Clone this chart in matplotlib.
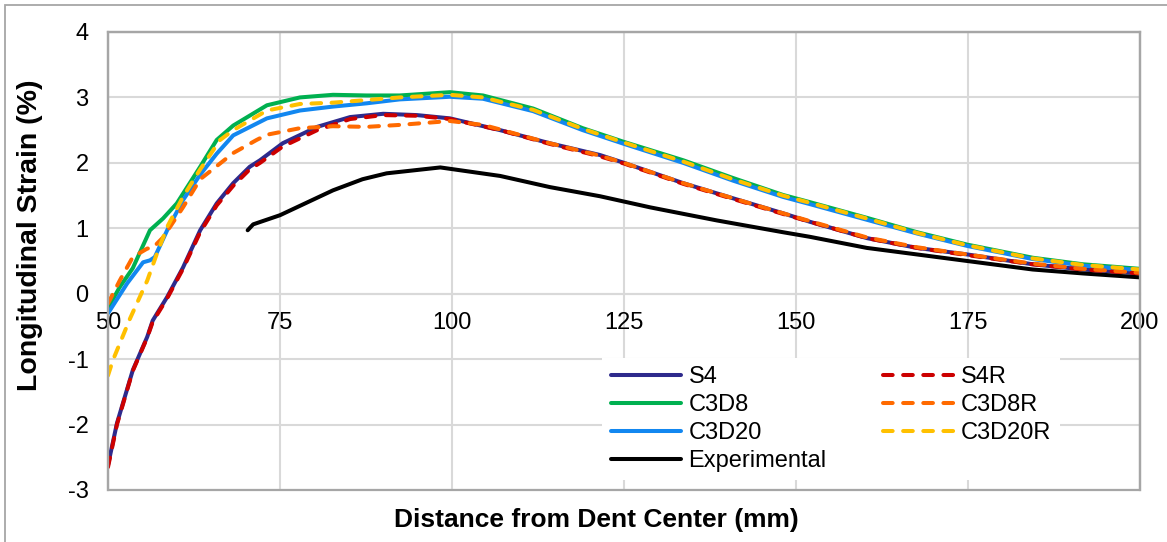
import matplotlib
matplotlib.use("Agg")
import matplotlib.pyplot as plt
from matplotlib.patches import Rectangle

plt.rcParams['font.family'] = ['Liberation Sans', 'DejaVu Sans']

# ---------------- data ----------------
s4_x = [50, 51.3, 53.6, 55.7, 56.5, 58.6, 60.9, 63.4, 65.8, 68.2, 70.6, 72.1, 75.4, 80.4, 85.2, 90, 94.9, 99.7,
        107, 114.2, 121.5, 125, 133.6, 140.8, 148.1, 152, 160.3, 167.6, 174.9, 184.4, 191.7, 200]
s4_y = [-2.62, -1.98, -1.17, -0.66, -0.41, -0.05, 0.4, 0.97, 1.38, 1.69, 1.94, 2.04, 2.3, 2.55, 2.7, 2.75, 2.73, 2.68,
        2.5, 2.3, 2.12, 2.0, 1.69, 1.46, 1.23, 1.1, 0.85, 0.7, 0.6, 0.45, 0.37, 0.31]

s4r_x = s4_x
s4r_y = [-2.65, -2.0, -1.18, -0.67, -0.43, -0.07, 0.38, 0.94, 1.35, 1.65, 1.9, 2.0, 2.25, 2.5, 2.67, 2.73, 2.72, 2.67,
         2.5, 2.29, 2.1, 1.99, 1.68, 1.45, 1.22, 1.1, 0.85, 0.7, 0.59, 0.45, 0.37, 0.31]

c3d8_x = [50, 51.7, 53.6, 56.1, 58, 60, 63.4, 65.8, 68.2, 73.1, 77.9, 82.7, 87.6, 92.4, 99.7, 104.5, 111.8, 119,
          125, 133.6, 140.8, 148.1, 152, 160.3, 167.6, 174.9, 184.4, 191.7, 200]
c3d8_y = [-0.22, 0.1, 0.39, 0.97, 1.15, 1.38, 1.94, 2.35, 2.57, 2.88, 3.0, 3.04, 3.03, 3.03, 3.08, 3.03, 2.83, 2.53,
          2.32, 2.04, 1.77, 1.51, 1.4, 1.16, 0.94, 0.75, 0.55, 0.45, 0.38]

c3d8r_x = [50, 51.7, 53.6, 55.7, 56.5, 58, 60.9, 63.4, 68.2, 71.6, 73.1, 77.9, 82.7, 87.6, 92.4, 99.7, 104.5, 107,
           114.2, 121.5, 125, 133.6, 140.8, 148.1, 152, 160.3, 167.6, 174.9, 184.4, 191.7, 200]
c3d8r_y = [-0.15, 0.2, 0.56, 0.69, 0.7, 0.86, 1.32, 1.75, 2.15, 2.35, 2.43, 2.53, 2.56, 2.55, 2.58, 2.64, 2.58, 2.51,
           2.3, 2.11, 2.0, 1.69, 1.46, 1.23, 1.11, 0.86, 0.71, 0.6, 0.46, 0.38, 0.32]

c3d20_x = [50, 52.8, 55.1, 56.1, 56.8, 58.6, 60.9, 63.4, 65.8, 68.2, 73.1, 77.9, 82.7, 87.6, 92.4, 99.7, 104.5, 111.8,
           119, 125, 133.6, 140.8, 148.1, 152, 160.3, 167.6, 174.9, 184.4, 191.7, 200]
c3d20_y = [-0.3, 0.16, 0.48, 0.51, 0.56, 0.97, 1.43, 1.82, 2.14, 2.42, 2.68, 2.8, 2.86, 2.91, 2.97, 3.01, 2.98, 2.79,
           2.5, 2.29, 2.0, 1.73, 1.48, 1.37, 1.13, 0.92, 0.73, 0.53, 0.43, 0.36]

c3d20r_x = [50, 50.7, 53.2, 55.7, 57.1, 58.6, 60.9, 63.4, 66.3, 68.2, 73.1, 77.9, 82.7, 87.6, 92.4, 99.7, 104.5, 111.8,
            119, 125, 133.6, 140.8, 148.1, 152, 160.3, 167.6, 174.9, 184.4, 191.7, 200]
c3d20r_y = [-1.25, -1.02, -0.38, 0.2, 0.61, 1.02, 1.48, 1.9, 2.35, 2.5, 2.8, 2.9, 2.92, 2.96, 3.0, 3.04, 3.0, 2.81,
            2.52, 2.31, 2.02, 1.75, 1.5, 1.39, 1.15, 0.93, 0.74, 0.54, 0.44, 0.37]

exp_x = [70.3, 71.1, 75, 82.7, 87, 90.5, 98.3, 107, 114.2, 121.5, 128.8, 138.5, 148.1, 152, 160.3, 167.6, 174.9,
         184.4, 191.7, 200]
exp_y = [0.97, 1.06, 1.2, 1.58, 1.75, 1.84, 1.93, 1.8, 1.63, 1.49, 1.32, 1.12, 0.94, 0.87, 0.7, 0.6, 0.5, 0.37,
         0.31, 0.25]

x_ticks = [50, 75, 100, 125, 150, 175, 200]
y_ticks = [-3, -2, -1, 0, 1, 2, 3, 4]

# ---------------- figure ----------------
fig = plt.figure(figsize=(11.67, 5.42), dpi=100)
W, H = 1167, 542
ax = fig.add_axes([108 / W, 1 - 490 / H, (1140 - 108) / W, (490 - 32) / H])

lw = 2.9
dash = (0, (2.4, 2.6))
solid_kw = dict(lw=lw, solid_capstyle='round', solid_joinstyle='round')
dash_kw = dict(lw=lw, ls=dash, dash_capstyle='round', dash_joinstyle='round')
l_s4, = ax.plot(s4_x, s4_y, color='#2E2A8C', label='S4', zorder=3, **solid_kw)
l_c8, = ax.plot(c3d8_x, c3d8_y, color='#00B050', label='C3D8', zorder=3, **solid_kw)
l_c20, = ax.plot(c3d20_x, c3d20_y, color='#1287F0', label='C3D20', zorder=3, **solid_kw)
l_exp, = ax.plot(exp_x, exp_y, color='black', label='Experimental', zorder=3, **solid_kw)
l_s4r, = ax.plot(s4r_x, s4r_y, color='#CC0000', label='S4R', zorder=4, **dash_kw)
l_c8r, = ax.plot(c3d8r_x, c3d8r_y, color='#FF6A00', label='C3D8R', zorder=4, **dash_kw)
l_c20r, = ax.plot(c3d20r_x, c3d20r_y, color='#FFC000', label='C3D20R', zorder=4, **dash_kw)

ax.set_xlim(50, 200)
ax.set_ylim(-3, 4)
ax.set_xticks(x_ticks)
ax.set_yticks(y_ticks)
ax.set_xticklabels([str(v) for v in x_ticks])
ax.set_yticklabels([str(v) for v in y_ticks])
ax.grid(True, color='#D9D9D9', lw=1.5, zorder=0)
ax.set_axisbelow(True)

for s in ['top', 'right', 'left']:
    ax.spines[s].set_color('#A6A6A6')
    ax.spines[s].set_linewidth(1.6)
ax.spines['bottom'].set_position(('data', 0))
ax.spines['bottom'].set_color('#D9D9D9')
ax.spines['bottom'].set_linewidth(1.5)
ax.add_patch(Rectangle((0, 0), 1, 1, transform=ax.transAxes, fill=False,
                       edgecolor='#A6A6A6', lw=1.6, zorder=5, clip_on=False))

ax.tick_params(axis='both', length=0, labelsize=17)
ax.tick_params(axis='x', pad=13)
ax.tick_params(axis='y', pad=14)

fig.text(30 / W, 1 - 235 / H, 'Longitudinal Strain (%)', rotation=90, ha='center', va='center',
         fontsize=20.5, fontweight='bold')
fig.text(596 / W, 1 - 520 / H, 'Distance from Dent Center (mm)', ha='center', va='center',
         fontsize=19, fontweight='bold')

handles = [l_s4, l_c8, l_c20, l_exp, l_s4r, l_c8r, l_c20r]
leg = ax.legend(handles=handles, labels=[h.get_label() for h in handles], ncol=2,
                loc='upper left', bbox_to_anchor=(0.479, 0.288), fontsize=17,
                frameon=True, fancybox=False, edgecolor='none', facecolor='white', framealpha=1,
                handlelength=3.0, handletextpad=0.3, columnspacing=2.4, labelspacing=0.25,
                borderpad=0.35, borderaxespad=0)
leg.set_zorder(6)

# outer chart border
fig.add_artist(Rectangle((5 / W, -0.1), 1.2, 0.1 + (1 - 5 / H), transform=fig.transFigure,
                         fill=False, edgecolor='#A6A6A6', lw=1.3))

fig.savefig('out.png', dpi=100)
